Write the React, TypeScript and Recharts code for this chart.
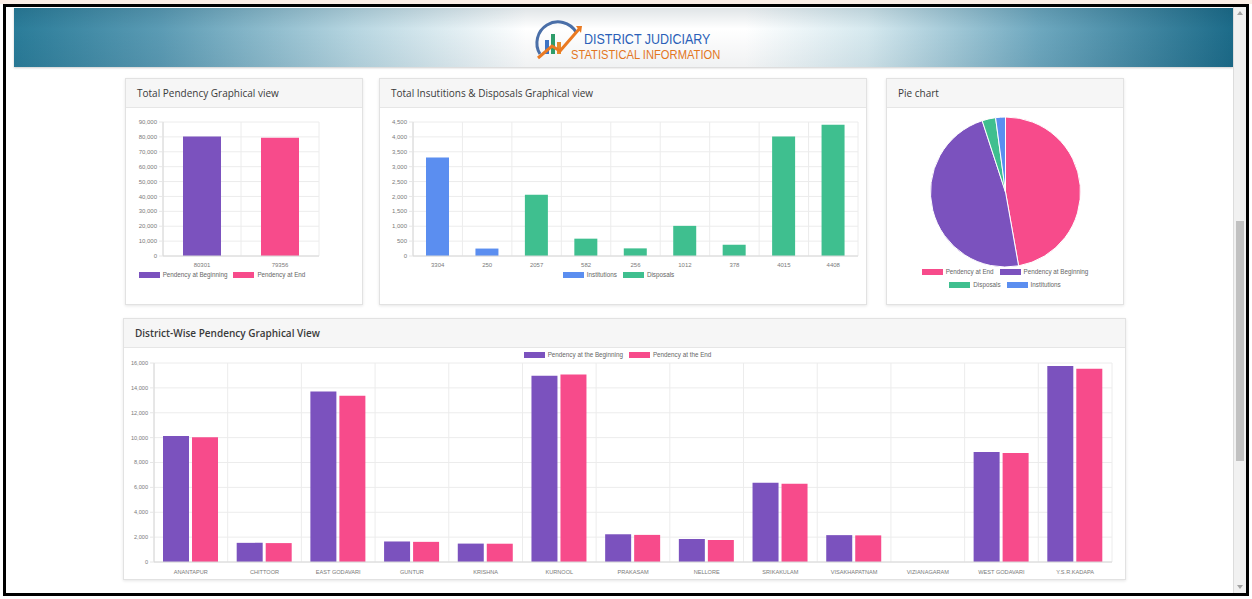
import React from "react";
import {
  BarChart,
  Bar,
  XAxis,
  YAxis,
  CartesianGrid,
  Legend,
  PieChart,
  Pie,
  Cell,
} from "recharts";

const PURPLE = "#7b52be";
const PINK = "#f74b8b";
const BLUE = "#5b8ef0";
const GREEN = "#3fbf8f";

// total pendency
const pendencyLabels = ["80301", "79356"];
const pendencyBeginning = [80301, 0];
const pendencyEnd = [0, 79356];
const pendencyTicks = [0, 10000, 20000, 30000, 40000, 50000, 60000, 70000, 80000, 90000];

// institutions & disposals
const idLabels = ["3304", "250", "2057", "582", "256", "1012", "378", "4015", "4408"];
const institutions = [3304, 250, 0, 0, 0, 0, 0, 0, 0];
const disposals = [0, 0, 2057, 582, 256, 1012, 378, 4015, 4408];
const idTicks = [0, 500, 1000, 1500, 2000, 2500, 3000, 3500, 4000, 4500];

// pie
const pieNames = ["Pendency at End", "Pendency at Beginning", "Disposals", "Institutions"];
const pieValues = [79356, 80301, 4900, 3554];
const pieColors = [PINK, PURPLE, GREEN, BLUE];

// district wise
const districts = [
  "ANANTAPUR",
  "CHITTOOR",
  "EAST GODAVARI",
  "GUNTUR",
  "KRISHNA",
  "KURNOOL",
  "PRAKASAM",
  "NELLORE",
  "SRIKAKULAM",
  "VISAKHAPATNAM",
  "VIZIANAGARAM",
  "WEST GODAVARI",
  "Y.S.R.KADAPA",
];
const districtBeginning = [10140, 1540, 13710, 1650, 1480, 14980, 2230, 1850, 6370, 2160, 0, 8850, 15760];
const districtEnd = [10030, 1520, 13360, 1620, 1470, 15080, 2180, 1770, 6290, 2140, 0, 8770, 15540];
const districtTicks = [0, 2000, 4000, 6000, 8000, 10000, 12000, 14000, 16000];

const pendencyData = pendencyLabels.map((label, i) => ({
  label,
  beginning: pendencyBeginning[i],
  end: pendencyEnd[i],
}));
const idData = idLabels.map((label, i) => ({
  label,
  institutions: institutions[i],
  disposals: disposals[i],
}));
const pieData = pieNames.map((name, i) => ({ name, value: pieValues[i] }));
const districtData = districts.map((name, i) => ({
  name,
  beginning: districtBeginning[i],
  end: districtEnd[i],
}));

const CHART_FONT = "'Liberation Sans', Arial, sans-serif";
const tickStyle = { fontSize: 6, fill: "#7a7a7a", fontFamily: CHART_FONT };
const fmt = (v: number) => v.toLocaleString("en-US");

// grid lines on category boundaries, like chart.js offset grid
const boundaryGrid = (n: number) => ({ offset }: any) =>
  Array.from({ length: n + 1 }, (_, i) => offset.left + (i * offset.width) / n);

const boxLegend = (items: { name: string; color: string }[], width?: number) => () => (
  <div
    style={{
      display: "flex",
      flexWrap: "wrap",
      justifyContent: "center",
      rowGap: 6,
      width: width,
      margin: "0 auto",
      fontFamily: CHART_FONT,
      fontSize: 6.3,
      color: "#666",
      lineHeight: "7px",
    }}
  >
    {items.map((it) => (
      <span key={it.name} style={{ display: "inline-flex", alignItems: "center", margin: "0 3px" }}>
        <span style={{ width: 21, height: 6, background: it.color, marginRight: 3, display: "inline-block" }} />
        {it.name}
      </span>
    ))}
  </div>
);

const Card = ({ left, top, width, height, title, bold }: any) => (
  <div
    style={{
      position: "absolute",
      left,
      top,
      width,
      height,
      background: "#fff",
      border: "1px solid #e2e2e2",
      boxShadow: "0 1px 3px rgba(0,0,0,0.10)",
      boxSizing: "border-box",
    }}
  >
    <div
      style={{
        height: 28,
        background: "#f6f6f6",
        borderBottom: "1px solid #e6e6e6",
        paddingLeft: 11,
        lineHeight: "28px",
        fontSize: 10,
        color: "#3a3a3a",
        fontWeight: bold ? 600 : 400,
      }}
    >
      {title}
    </div>
  </div>
);

const Logo = () => (
  <svg width={52} height={46} viewBox="0 0 52 46" style={{ position: "absolute", left: 532, top: 18 }}>
    <path d="M8 36 A20 20 0 1 1 44 14" fill="none" stroke="#4a6fa8" strokeWidth={3} />
    <rect x={13} y={22} width={4} height={14} fill="#3d74c4" />
    <rect x={19} y={16} width={4} height={20} fill="#2e9c6a" />
    <rect x={25} y={24} width={4} height={12} fill="#e98a2a" />
    <path d="M6 40 L20 28 L28 33 L48 10" fill="none" stroke="#ea7a22" strokeWidth={3} />
    <path d="M44 8 L50 8 L49 15 Z" fill="#ea7a22" />
  </svg>
);

const bannerText = {
  position: "absolute" as const,
  fontFamily: "'Liberation Sans Narrow', 'Liberation Sans', Arial, sans-serif",
  transform: "scaleX(0.86)",
  transformOrigin: "left top",
  whiteSpace: "nowrap" as const,
};

export default function App() {
  return (
    <div
      style={{
        position: "absolute",
        left: 0,
        top: 0,
        width: 1252,
        height: 599,
        background: "#fff",
        overflow: "hidden",
        fontFamily: "'Open Sans', 'Noto Sans', sans-serif",
      }}
    >
      <div style={{ position: "absolute", left: 0, top: 0, width: 1252, height: 4, background: "#fbeee6" }} />

      {/* header banner */}
      <div
        style={{
          position: "absolute",
          left: 14,
          top: 8,
          width: 1219,
          height: 59,
          background:
            "linear-gradient(180deg, rgba(0,40,60,0.12) 0%, rgba(255,255,255,0) 35%, rgba(0,30,50,0.06) 100%), linear-gradient(90deg, #2a7c99 0%, #5b9bb4 12%, #b7d6e1 28%, #ffffff 42%, #ffffff 60%, #d6e9ef 70%, #6ea8bf 84%, #1c6b89 100%)",
          boxShadow: "0 1px 2px rgba(0,0,0,0.2)",
        }}
      />
      <Logo />
      <div style={{ ...bannerText, left: 584, top: 31, fontSize: 14.5, color: "#2a5fb8", lineHeight: "16px" }}>
        DISTRICT JUDICIARY
      </div>
      <div style={{ ...bannerText, left: 571, top: 48, fontSize: 13, color: "#e3761f", lineHeight: "14px" }}>
        STATISTICAL INFORMATION
      </div>

      <Card left={125} top={78} width={238} height={227} title="Total Pendency Graphical view" />
      <Card left={379} top={78} width={488} height={227} title="Total Insutitions & Disposals Graphical view" />
      <Card left={886} top={78} width={238} height={227} title="Pie chart" />
      <Card left={123} top={318} width={1003} height={262} title="District-Wise Pendency Graphical View" bold />

      {/* total pendency */}
      <div style={{ position: "absolute", left: 125, top: 112 }}>
        <BarChart width={238} height={176} data={pendencyData} margin={{ top: 10, right: 44, left: 0, bottom: 3 }}>
          <CartesianGrid stroke="#ececec" verticalCoordinatesGenerator={boundaryGrid(2)} />
          <XAxis dataKey="label" tick={tickStyle} tickLine={false} axisLine={{ stroke: "#d8d8d8" }} height={15} tickSize={0} tickMargin={7} interval={0} />
          <YAxis
            width={38}
            domain={[0, 90000]}
            ticks={pendencyTicks}
            interval={0}
            tickFormatter={fmt}
            tick={tickStyle}
            tickLine={{ stroke: "#e6e6e6" }}
            tickSize={4}
            axisLine={{ stroke: "#d8d8d8" }}
          />
          <Legend
            verticalAlign="bottom"
            height={14}
            wrapperStyle={{ height: 14 }}
            content={boxLegend([
              { name: "Pendency at Beginning", color: PURPLE },
              { name: "Pendency at End", color: PINK },
            ])}
          />
          <Bar dataKey="beginning" stackId="p" fill={PURPLE} barSize={38} isAnimationActive={false} />
          <Bar dataKey="end" stackId="p" fill={PINK} barSize={38} isAnimationActive={false} />
        </BarChart>
      </div>

      {/* institutions & disposals */}
      <div style={{ position: "absolute", left: 379, top: 112 }}>
        <BarChart width={488} height={176} data={idData} margin={{ top: 10, right: 9, left: 0, bottom: 3 }}>
          <CartesianGrid stroke="#ececec" verticalCoordinatesGenerator={boundaryGrid(9)} />
          <XAxis dataKey="label" tick={tickStyle} tickLine={false} axisLine={{ stroke: "#d8d8d8" }} height={15} tickSize={0} tickMargin={7} interval={0} />
          <YAxis
            width={34}
            domain={[0, 4500]}
            ticks={idTicks}
            interval={0}
            tickFormatter={fmt}
            tick={tickStyle}
            tickLine={{ stroke: "#e6e6e6" }}
            tickSize={4}
            axisLine={{ stroke: "#d8d8d8" }}
          />
          <Legend
            verticalAlign="bottom"
            height={14}
            wrapperStyle={{ height: 14 }}
            content={boxLegend([
              { name: "Institutions", color: BLUE },
              { name: "Disposals", color: GREEN },
            ])}
          />
          <Bar dataKey="institutions" stackId="d" fill={BLUE} barSize={23} isAnimationActive={false} />
          <Bar dataKey="disposals" stackId="d" fill={GREEN} barSize={23} isAnimationActive={false} />
        </BarChart>
      </div>

      {/* pie */}
      <div style={{ position: "absolute", left: 886, top: 110 }}>
        <PieChart width={238} height={190} margin={{ top: 0, right: 0, left: 0, bottom: 8 }}>
          <Pie
            data={pieData}
            dataKey="value"
            nameKey="name"
            cx={119.5}
            cy={82}
            outerRadius={75}
            startAngle={90}
            endAngle={-270}
            stroke="#fff"
            strokeWidth={1}
            isAnimationActive={false}
          >
            {pieData.map((d, i) => (
              <Cell key={d.name} fill={pieColors[i]} />
            ))}
          </Pie>
          <Legend
            verticalAlign="bottom"
            height={24}
            wrapperStyle={{ height: 24 }}
            content={boxLegend(
              pieNames.map((n, i) => ({ name: n, color: pieColors[i] })),
              190
            )}
          />
        </PieChart>
      </div>

      {/* district wise */}
      <div style={{ position: "absolute", left: 123, top: 348 }}>
        <BarChart
          width={1003}
          height={234}
          data={districtData}
          margin={{ top: 3, right: 14, left: 0, bottom: 0 }}
          barCategoryGap="10%"
          barGap={3}
        >
          <CartesianGrid stroke="#ececec" verticalCoordinatesGenerator={boundaryGrid(13)} />
          <XAxis
            dataKey="name"
            tick={{ ...tickStyle, fontSize: 5.6 }}
            tickLine={false}
            axisLine={{ stroke: "#d8d8d8" }}
            height={20}
            tickSize={0}
            tickMargin={8}
            interval={0}
          />
          <YAxis
            width={31}
            domain={[0, 16000]}
            ticks={districtTicks}
            interval={0}
            tickFormatter={fmt}
            tick={{ ...tickStyle, fontSize: 5.6 }}
            tickLine={{ stroke: "#e6e6e6" }}
            tickSize={4}
            axisLine={{ stroke: "#d8d8d8" }}
          />
          <Legend
            verticalAlign="top"
            height={12}
            wrapperStyle={{ height: 12 }}
            content={boxLegend([
              { name: "Pendency at the Beginning", color: PURPLE },
              { name: "Pendency at the End", color: PINK },
            ])}
          />
          <Bar dataKey="beginning" fill={PURPLE} barSize={26} isAnimationActive={false} />
          <Bar dataKey="end" fill={PINK} barSize={26} isAnimationActive={false} />
        </BarChart>
      </div>

      {/* scrollbar */}
      <div
        style={{
          position: "absolute",
          left: 1233,
          top: 7,
          width: 13,
          height: 586,
          background: "#f1f1f1",
          borderLeft: "1px solid #dcdcdc",
          boxSizing: "border-box",
        }}
      >
        <div style={{ position: "absolute", left: 3, top: 4, width: 0, height: 0, borderLeft: "3px solid transparent", borderRight: "3px solid transparent", borderBottom: "4px solid #a3a3a3" }} />
        <div style={{ position: "absolute", left: 2, top: 214, width: 8, height: 240, background: "#c1c1c1" }} />
        <div style={{ position: "absolute", left: 3, bottom: 4, width: 0, height: 0, borderLeft: "3px solid transparent", borderRight: "3px solid transparent", borderTop: "4px solid #a3a3a3" }} />
      </div>

      {/* screenshot frame */}
      <div
        style={{
          position: "absolute",
          left: 3,
          top: 4,
          width: 1246,
          height: 592,
          border: "3px solid #000",
          boxSizing: "border-box",
          pointerEvents: "none",
        }}
      />
    </div>
  );
}
